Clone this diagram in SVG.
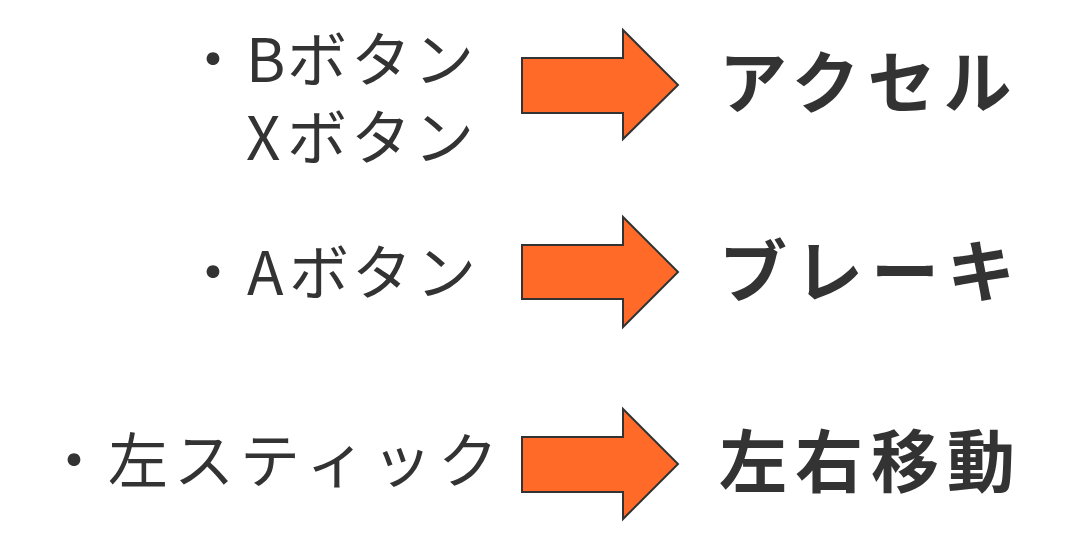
<svg xmlns="http://www.w3.org/2000/svg" width="1070" height="553" viewBox="0 0 1070 553">
<style>
.lbl{font-family:"Noto Sans CJK JP","Noto Sans",sans-serif;font-size:60px;font-weight:normal;fill:#333333}
.out{font-family:"Noto Sans CJK JP","Noto Sans",sans-serif;font-size:68px;font-weight:bold;fill:#333333;letter-spacing:8px}
.arrow{fill:#FF6A28;stroke:#333333;stroke-width:2;stroke-linejoin:miter}
</style>
<rect width="1070" height="553" fill="#ffffff"/>
<g id="input-bx">
<text class="lbl"><tspan x="183 246 287 351 414" y="82">・Bボタン</tspan><tspan x="246 287 351 414" y="160">Xボタン</tspan></text>
</g>
<g id="input-a">
<text class="lbl" x="183 247 289 352 416" y="295">・Aボタン</text>
</g>
<g id="input-stick">
<text class="lbl" x="44 108 174 240 306 372 438" y="483">・左スティック</text>
</g>
<g id="connectors">
<polygon class="arrow" points="522,58 623,58 623,30 678,85 623,139 623,113 522,113"/>
<polygon class="arrow" points="522,245 623,245 623,217 678,272 623,327 623,299 522,299"/>
<polygon class="arrow" points="522,437 623,437 623,409 678,464 623,519 623,492 522,492"/>
</g>
<g id="out-accel">
<text class="out" x="719" y="108">アクセル</text>
</g>
<g id="out-brake">
<text class="out" x="719" y="297">ブレーキ</text>
</g>
<g id="out-move">
<text class="out" x="719" y="487">左右移動</text>
</g>
</svg>
